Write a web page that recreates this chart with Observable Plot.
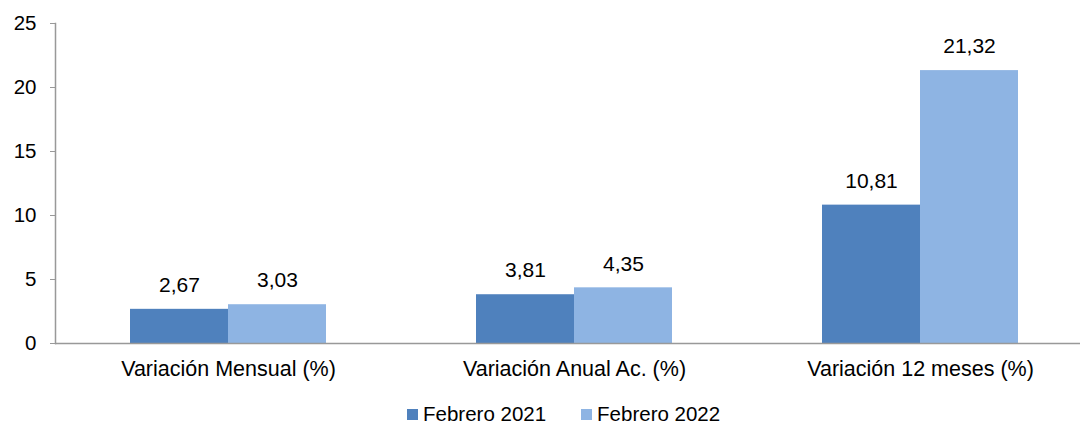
<!DOCTYPE html>
<html>
<head>
<meta charset="utf-8">
<script src="https://cdn.jsdelivr.net/npm/d3@7"></script>
<script src="https://cdn.jsdelivr.net/npm/@observablehq/plot@0.6"></script>
<style>
  html, body { margin: 0; padding: 0; background: #fff; }
  body { width: 1080px; height: 423px; overflow: hidden; font-family: "Liberation Sans", Arial, sans-serif; }
  #chart svg { display: block; }
  #legend { display: flex; align-items: center; height: 16px; line-height: 16px; margin-top: 11px; padding-left: 407px; font-size: 20.5px; color: #000; }
  .item { display: flex; align-items: center; margin-right: 35px; }
  .sw { width: 11px; height: 11px; margin-right: 5px; }
</style>
</head>
<body>
<div id="chart"></div>
<div id="legend"></div>
<script>
const categories = ["Variación Mensual (%)", "Variación Anual Ac. (%)", "Variación 12 meses (%)"];
const series = ["Febrero 2021", "Febrero 2022"];
const values2021 = [2.67, 3.81, 10.81];
const values2022 = [3.03, 4.35, 21.32];
const colors = ["#4F81BD", "#8EB4E3"];
const yTicks = [0, 5, 10, 15, 20, 25];

const data = [];
categories.forEach((c, i) => {
  data.push({category: c, series: series[0], value: values2021[i]});
  data.push({category: c, series: series[1], value: values2022[i]});
});

const fmt = v => v.toFixed(2).replace(".", ",");

const chart = Plot.plot({
  width: 1080,
  height: 395,
  marginTop: 23,
  marginBottom: 52,
  marginLeft: 54,
  marginRight: 0,
  style: {fontFamily: "'Liberation Sans', Arial, sans-serif", fontSize: "20px", color: "#000", background: "#fff"},
  fx: {domain: categories, range: [54, 1094], paddingInner: 0, paddingOuter: 0, label: null},
  x: {domain: series, paddingInner: 0, paddingOuter: 0.76, axis: null},
  y: {domain: [0, 25], label: null},
  color: {domain: series, range: colors},
  marks: [
    Plot.barY(data, {fx: "category", x: "series", y: "value", fill: "series", inset: 0}),
    Plot.text(data, {fx: "category", x: "series", y: "value", text: d => fmt(d.value), dy: -24, lineAnchor: "middle", fill: "#000", fontSize: 21}),
    Plot.ruleY([0], {stroke: "#999", strokeWidth: 1.5}),
    Plot.frame({anchor: "left", stroke: "#999", strokeWidth: 1.5, facetAnchor: "left"}),
    Plot.axisY({ticks: yTicks, tickSize: 5, tickPadding: 14, stroke: "#999", fill: "#000", fontSize: 20.5, label: null, tickFormat: d => String(d)}),
    Plot.axisFx({anchor: "bottom", tickSize: 0, tickPadding: 17, fill: "#000", fontSize: 21.5, label: null})
  ]
});
document.getElementById("chart").appendChild(chart);

const legend = document.getElementById("legend");
series.forEach((s, i) => {
  const item = document.createElement("div");
  item.className = "item";
  const sw = document.createElement("div");
  sw.className = "sw";
  sw.style.background = colors[i];
  const t = document.createElement("span");
  t.textContent = s;
  item.appendChild(sw);
  item.appendChild(t);
  legend.appendChild(item);
});
</script>
</body>
</html>
